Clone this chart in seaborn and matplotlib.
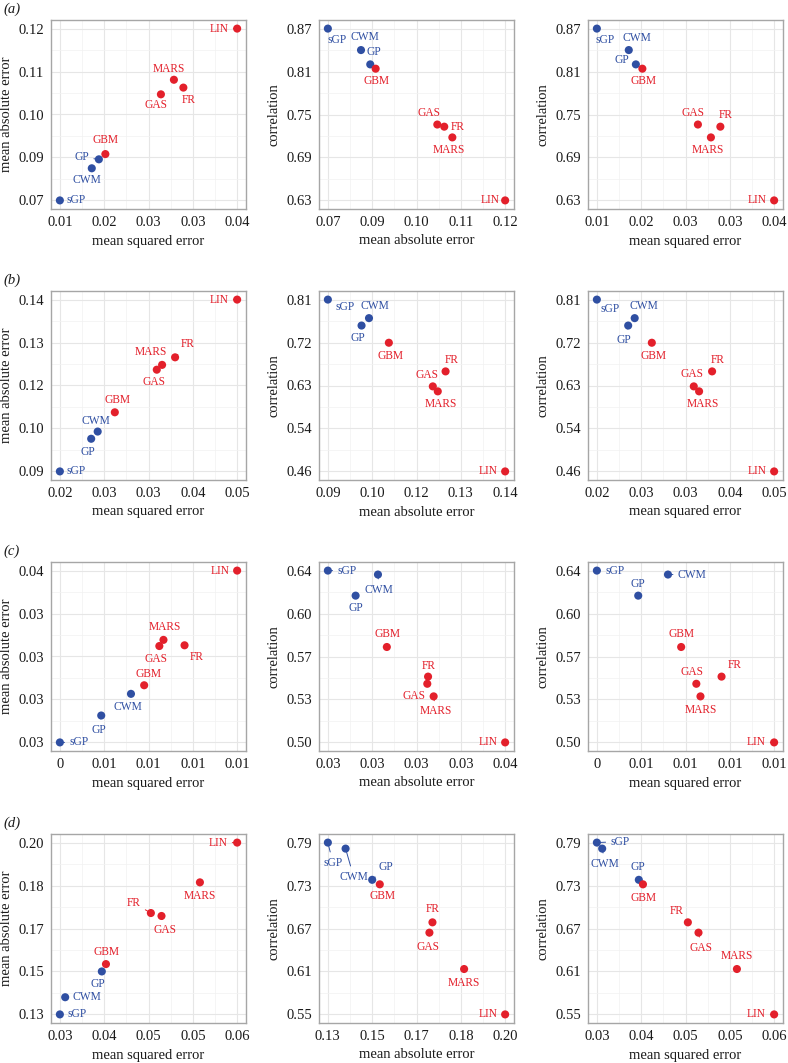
import numpy as np
import pandas as pd
import matplotlib
matplotlib.use("Agg")
import matplotlib.pyplot as plt
from matplotlib.ticker import FixedLocator
import seaborn as sns

# methods shown in every panel
methods = ["sGP", "CWM", "GP", "GBM", "GAS", "FR", "MARS", "LIN"]
groups = ["gp", "gp", "gp", "other", "other", "other", "other", "other"]

# row (a)
mse_a = [0.0100, 0.0154, 0.0166, 0.0177, 0.0271, 0.0309, 0.0293, 0.0400]
mae_a = [0.0745, 0.0831, 0.0855, 0.0869, 0.1029, 0.1047, 0.1068, 0.1205]
cor_a = [0.870, 0.840, 0.820, 0.814, 0.736, 0.733, 0.718, 0.630]
# row (b)
mse_b = [0.0200, 0.0264, 0.0253, 0.0293, 0.0364, 0.0395, 0.0373, 0.0500]
mae_b = [0.0900, 0.1016, 0.0995, 0.1072, 0.1196, 0.1232, 0.1210, 0.1400]
cor_b = [0.8075, 0.7695, 0.7543, 0.7191, 0.6297, 0.6604, 0.6195, 0.4555]
# row (c)
mse_c = [0.00450, 0.00811, 0.00660, 0.00878, 0.00955, 0.01083, 0.00976, 0.01350]
mae_c = [0.02650, 0.02910, 0.02794, 0.02956, 0.03166, 0.03170, 0.03199, 0.03570]
cor_c = [0.6392, 0.6360, 0.6189, 0.5773, 0.5475, 0.5533, 0.5373, 0.5000]
# row (d)
mse_d = [0.0315, 0.0324, 0.0386, 0.0393, 0.0487, 0.0469, 0.0552, 0.0615]
mae_d = [0.1300, 0.1370, 0.1475, 0.1505, 0.1701, 0.1713, 0.1838, 0.2000]
cor_d = [0.7900, 0.7816, 0.7380, 0.7317, 0.6642, 0.6786, 0.6134, 0.5500]

# tick labels as printed (rounded to two decimals)
mse_ticks = {
    "a": ["0.01", "0.02", "0.03", "0.03", "0.04"],
    "b": ["0.02", "0.03", "0.03", "0.04", "0.05"],
    "c": ["0", "0.01", "0.01", "0.01", "0.01"],
    "d": ["0.03", "0.04", "0.05", "0.05", "0.06"],
}
mae_ticks = {
    "a": ["0.07", "0.09", "0.10", "0.11", "0.12"],
    "b": ["0.09", "0.10", "0.12", "0.13", "0.14"],
    "c": ["0.03", "0.03", "0.03", "0.03", "0.04"],
    "d": ["0.13", "0.15", "0.17", "0.18", "0.20"],
}
cor_ticks = {
    "a": ["0.63", "0.69", "0.75", "0.81", "0.87"],
    "b": ["0.46", "0.54", "0.63", "0.72", "0.81"],
    "c": ["0.50", "0.53", "0.57", "0.60", "0.64"],
    "d": ["0.55", "0.61", "0.67", "0.73", "0.79"],
}

# label offsets (pixels) from each point, in methods order -- layout only
label_offsets = {
    ("a", 0): [(16, 0), (-5, -12), (-17, 2), (0, 14), (-5, -11), (5, -12), (-5, 11), (-18, 0)],
    ("a", 1): [(9, -11), (4, 13), (4, 12), (1, -12), (-8, 12), (13, 0), (-3, -13), (-15, 0)],
    ("a", 2): [(8, -11), (8, 12), (-14, 4), (1, -12), (-5, 12), (5, 12), (-3, -13), (-17, 0)],
    ("b", 0): [(16, 0), (-2, 11), (-3, -13), (3, 12), (-3, -12), (13, 13), (-11, 13), (-18, 0)],
    ("b", 1): [(17, -7), (6, 12), (-4, -12), (2, -13), (-6, 11), (6, 11), (3, -13), (-17, 0)],
    ("b", 2): [(13, -9), (9, 12), (-4, -14), (2, -13), (-2, 12), (6, 11), (4, -13), (-17, 0)],
    ("c", 0): [(19, 0), (-3, -13), (-2, -14), (4, 11), (-3, -13), (12, -12), (1, 13), (-17, 0)],
    ("c", 1): [(19, 0), (1, -15), (0, -12), (1, 13), (-13, -12), (1, 11), (2, -15), (-17, 0)],
    ("c", 2): [(18, 0), (24, 0), (0, 12), (0, 13), (-4, 12), (13, 12), (0, -14), (-18, 0)],
    ("d", 0): [(17, 0), (22, 0), (-4, -13), (1, 12), (4, -14), (-17, 10), (0, -14), (-19, 0)],
    ("d", 1): [(5, -20), (8, -28), (14, 13), (3, -12), (-1, -14), (0, 13), (0, -14), (-17, 0)],
    ("d", 2): [(23, 1), (3, -15), (-1, 13), (1, -14), (3, -15), (-11, 11), (0, 13), (-18, 0)],
}

BLUE = "#2f4fa2"
RED = "#e3202b"
palette = {"gp": BLUE, "other": RED}

sns.set_theme(style="white")
plt.rcParams["font.family"] = ["Liberation Serif", "DejaVu Serif"]

W, H = 788, 1063
fig = plt.figure(figsize=(W / 100, H / 100), dpi=100)

col_left = [51, 319, 588]
row_top = [20, 291, 562, 834]
ax_w, ax_h = 195, 189

rows = [
    ("a", mse_a, mae_a, cor_a),
    ("b", mse_b, mae_b, cor_b),
    ("c", mse_c, mae_c, cor_c),
    ("d", mse_d, mae_d, cor_d),
]
names = {"mse": "mean squared error", "mae": "mean absolute error", "cor": "correlation"}
panels = [("mse", "mae"), ("mae", "cor"), ("mse", "cor")]

for r, (key, mse, mae, cor) in enumerate(rows):
    df = pd.DataFrame({"method": methods, "group": groups, "mse": mse, "mae": mae, "cor": cor})
    tick_text = {"mse": mse_ticks[key], "mae": mae_ticks[key], "cor": cor_ticks[key]}
    for c, (xm, ym) in enumerate(panels):
        ax = fig.add_axes([col_left[c] / W, 1 - (row_top[r] + ax_h) / H, ax_w / W, ax_h / H])
        sns.scatterplot(data=df, x=xm, y=ym, hue="group", palette=palette, s=34,
                        linewidth=0, legend=False, ax=ax, zorder=4)

        for axis, m in (("x", xm), ("y", ym)):
            lo, hi = df[m].min(), df[m].max()
            pad = 0.05 * (hi - lo)
            br = np.linspace(lo, hi, 5)
            minor = (br[:-1] + br[1:]) / 2
            if axis == "x":
                ax.set_xlim(lo - pad, hi + pad)
                ax.xaxis.set_major_locator(FixedLocator(br))
                ax.xaxis.set_minor_locator(FixedLocator(minor))
                ax.set_xticklabels(tick_text[m])
            else:
                ax.set_ylim(lo - pad, hi + pad)
                ax.yaxis.set_major_locator(FixedLocator(br))
                ax.yaxis.set_minor_locator(FixedLocator(minor))
                ax.set_yticklabels(tick_text[m])

        ax.grid(which="major", color="#e6e6e6", lw=0.8, zorder=0)
        ax.grid(which="minor", color="#f2f2f2", lw=0.5, zorder=0)
        ax.set_axisbelow(True)
        for sp in ax.spines.values():
            sp.set_color("#a6a6a6")
            sp.set_linewidth(1.0)
        ax.tick_params(which="major", length=3, width=0.6, color="#555555",
                       labelsize=10.5, labelcolor="#1a1a1a", pad=2)
        ax.tick_params(which="minor", length=0)
        ax.set_xlabel(names[xm], fontsize=10.5, color="#1a1a1a", labelpad=4)
        ax.set_ylabel(names[ym], fontsize=10.5, color="#1a1a1a", labelpad=4)

        for i, name in enumerate(methods):
            dx, dy = label_offsets[(key, c)][i]
            col = palette[groups[i]]
            ax.annotate(name, xy=(df[xm][i], df[ym][i]), xytext=(dx, dy),
                        textcoords="offset pixels", ha="center", va="center",
                        fontsize=8.3, color=col, zorder=3,
                        arrowprops=dict(arrowstyle="-", color=col, lw=0.7,
                                        shrinkA=1, shrinkB=0))

    fig.text(3 / W, 1 - (row_top[r] - 11) / H, f"({key})", fontsize=10.5,
             style="italic", ha="left", va="center", color="#1a1a1a")

fig.savefig("out.png", dpi=100)
